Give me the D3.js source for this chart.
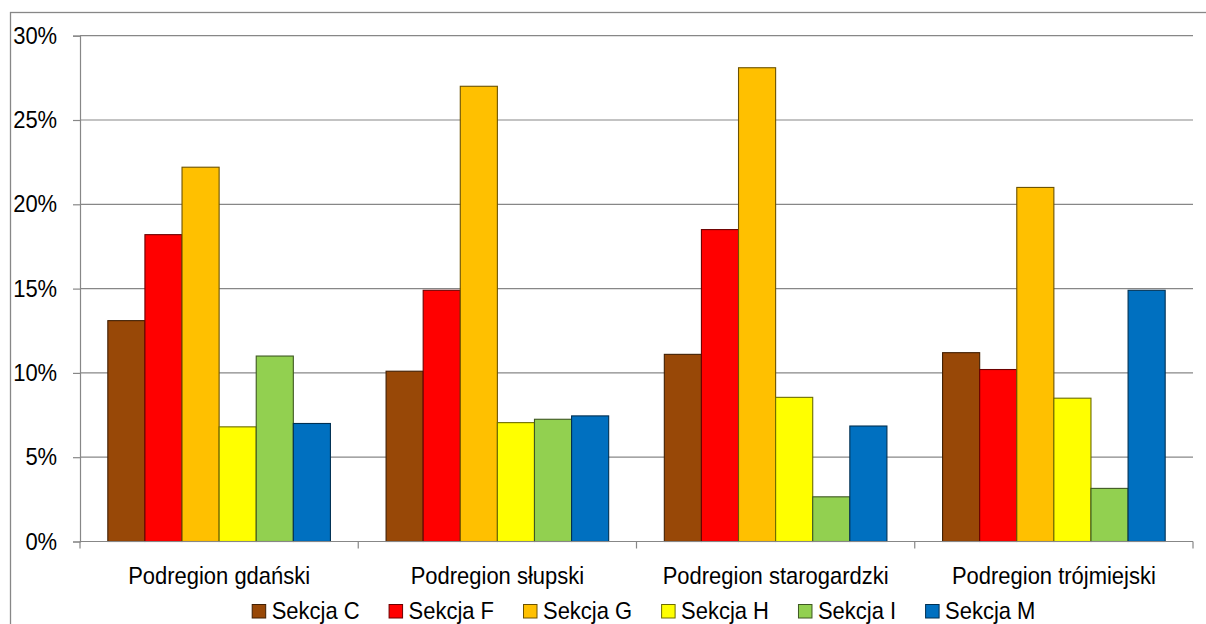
<!DOCTYPE html>
<html>
<head>
<meta charset="utf-8">
<script src="https://cdn.jsdelivr.net/npm/d3@7"></script>
<style>
  html, body { margin: 0; padding: 0; background: #fff; }
  svg { display: block; font-family: "Liberation Sans", Arial, sans-serif; }
</style>
</head>
<body>
<svg id="chart" width="1206" height="624"></svg>
<script>
const categories = ["Podregion gdański", "Podregion słupski", "Podregion starogardzki", "Podregion trójmiejski"];
const seriesNames = ["Sekcja C", "Sekcja F", "Sekcja G", "Sekcja H", "Sekcja I", "Sekcja M"];
const sekcjaC = [13.1, 10.1, 11.1, 11.2];
const sekcjaF = [18.2, 14.9, 18.5, 10.2];
const sekcjaG = [22.2, 27.0, 28.1, 21.0];
const sekcjaH = [6.8, 7.05, 8.55, 8.5];
const sekcjaI = [11.0, 7.25, 2.65, 3.15];
const sekcjaM = [7.0, 7.45, 6.85, 14.9];
const yTicks = [0, 5, 10, 15, 20, 25, 30];
const colors = ["#984807", "#FF0000", "#FFC000", "#FFFF00", "#92D050", "#0070C0"];

const seriesValues = [sekcjaC, sekcjaF, sekcjaG, sekcjaH, sekcjaI, sekcjaM];

const svg = d3.select("#chart");
const mLeft = 80, mRight = 1193, mTop = 35.7, mBottom = 541.5;
const gridColor = "#878787";
const fontSize = 24, squeeze = 0.915;

// outer frame
svg.append("rect").attr("x", 10.5).attr("y", 12.5).attr("width", 1220).attr("height", 640)
  .attr("fill", "none").attr("stroke", gridColor).attr("stroke-width", 1.3);

const y = d3.scaleLinear().domain([0, 30]).range([mBottom, mTop]);
const x0 = d3.scaleBand().domain(categories).range([mLeft, mRight]).paddingInner(0.2).paddingOuter(0.1);
const x1 = d3.scaleBand().domain(seriesNames).range([0, x0.bandwidth()]);

// gridlines
svg.append("g").selectAll("line").data(yTicks.filter(d => d > 0)).join("line")
  .attr("x1", mLeft).attr("x2", mRight)
  .attr("y1", d => y(d)).attr("y2", d => y(d))
  .attr("stroke", gridColor).attr("stroke-width", 1.2);

// bars
const groups = svg.append("g").selectAll("g").data(categories).join("g")
  .attr("transform", d => `translate(${x0(d)},0)`);
groups.selectAll("rect").data((c, ci) => seriesNames.map((s, si) => ({ s, si, v: seriesValues[si][ci] })))
  .join("rect")
  .attr("x", d => x1(d.s))
  .attr("width", x1.bandwidth())
  .attr("y", d => y(d.v))
  .attr("height", d => y(0) - y(d.v))
  .attr("fill", d => colors[d.si])
  .attr("stroke", d => d3.color(colors[d.si]).darker(2.4))
  .attr("stroke-width", 1.1);

// y axis
const yAxis = svg.append("g").attr("transform", `translate(${mLeft},0)`)
  .call(d3.axisLeft(y).tickValues(yTicks).tickFormat(d => d + "%").tickSize(7).tickPadding(18));
yAxis.select(".domain").attr("stroke", gridColor).attr("stroke-width", 1.2);
yAxis.selectAll(".tick line").attr("stroke", gridColor).attr("stroke-width", 1.2);
yAxis.selectAll(".tick text").attr("font-size", fontSize).attr("fill", "#000")
  .attr("font-family", "Liberation Sans, Arial, sans-serif")
  .attr("transform", `scale(${squeeze},1)`);

// x axis with category labels
const xAxis = svg.append("g").attr("transform", `translate(0,${mBottom})`)
  .call(d3.axisBottom(x0).tickSize(0).tickPadding(25));
xAxis.select(".domain").attr("stroke", gridColor).attr("stroke-width", 1.2)
  .attr("d", `M${mLeft},0H${mRight}`);
xAxis.selectAll(".tick text").attr("font-size", fontSize).attr("fill", "#000")
  .attr("font-family", "Liberation Sans, Arial, sans-serif")
  .attr("transform", `scale(${squeeze},1)`);
// boundary ticks between categories
const boundaries = categories.map(c => x0(c) - x0.step() * x0.paddingInner() / 2).concat([mRight]);
xAxis.append("g").selectAll("line").data(boundaries).join("line")
  .attr("x1", d => d).attr("x2", d => d).attr("y1", 0).attr("y2", 7)
  .attr("stroke", gridColor).attr("stroke-width", 1.2);

// legend
const legend = svg.append("g");
let lx = 251.7;
seriesNames.forEach((s, i) => {
  const g = legend.append("g").attr("transform", `translate(${lx},0)`);
  g.append("rect").attr("x", 0.5).attr("y", 604.5).attr("width", 13.5).attr("height", 13.5)
    .attr("fill", colors[i]).attr("stroke", d3.color(colors[i]).darker(2.4)).attr("stroke-width", 1);
  const t = g.append("text").attr("x", 20 / squeeze).attr("y", 619.5)
    .attr("font-size", fontSize).attr("fill", "#000")
    .attr("transform", `scale(${squeeze},1)`).text(s);
  const w = t.node().getComputedTextLength() * squeeze;
  lx += 20 + w + 29;
});
</script>
</body>
</html>
